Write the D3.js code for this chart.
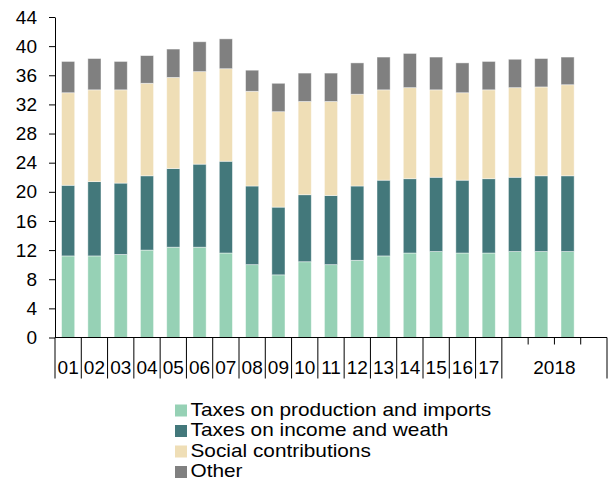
<!DOCTYPE html>
<html>
<head>
<meta charset="utf-8">
<script src="https://cdn.jsdelivr.net/npm/d3@7"></script>
<style>
  body { margin: 0; background: #fff; }
  svg { font-family: "Liberation Sans", Arial, sans-serif; }
</style>
</head>
<body>
<div id="chart"></div>
<script>
// slots on the x axis: years 2001-2017, then 2018 quarters
const categories = ["01","02","03","04","05","06","07","08","09","10","11","12","13","14","15","16","17","Q1","Q2","Q3","Q4"];
const yearLabels = ["01","02","03","04","05","06","07","08","09","10","11","12","13","14","15","16","17"];
const groupLabel = "2018";
const quarters = ["Q1","Q2","Q3","Q4"];

// % of GDP, one value per bar
const production = [11.2,11.2,11.4,12.0,12.4,12.4,11.6,10.0,8.6,10.4,10.0,10.6,11.2,11.6,11.8,11.6,11.6,11.8,11.8,11.8];
const income     = [9.7,10.2,9.8,10.2,10.8,11.4,12.6,10.8,9.3,9.2,9.5,10.2,10.4,10.2,10.2,10.0,10.2,10.2,10.4,10.4];
const social     = [12.7,12.6,12.8,12.7,12.5,12.7,12.7,13.0,13.1,12.8,12.9,12.6,12.4,12.5,12.0,12.0,12.2,12.3,12.2,12.5];
const other      = [4.3,4.3,3.9,3.8,3.9,4.1,4.1,2.9,3.9,3.9,3.9,4.3,4.5,4.7,4.5,4.1,3.9,3.9,3.9,3.8];

const seriesNames = ["Taxes on production and imports","Taxes on income and weath","Social contributions","Other"];
const colors = ["#96d1b5","#43787b","#efdeb6","#808080"];
const yTicks = [0,4,8,12,16,20,24,28,32,36,40,44];

const w = 611, h = 481;
const padLeft = 55, padRight = 607, padTop = 17, padBottom = 337.5;

// table for the stack
const keys = ["p","i","s","o"];
const table = production.map((d,i)=>({cat:categories[i], p:d, i:income[i], s:social[i], o:other[i]}));
const stacked = d3.stack().keys(keys)(table);

const svg = d3.select("#chart").append("svg")
    .attr("width",w)
    .attr("height",h);

const xScale = d3.scaleBand()
    .domain(categories)
    .range([padLeft,padRight])
    .paddingInner(0.5)
    .paddingOuter(0.25);
const step = xScale.step();

const yScale = d3.scaleLinear()
    .domain([0,44])
    .range([padBottom,padTop]);

// bars
svg.selectAll("g.layer")
    .data(stacked)
    .enter()
    .append("g")
    .attr("class","layer")
    .style("fill",(d,i)=>colors[i])
    .selectAll("rect")
    .data(d=>d)
    .enter()
    .append("rect")
    .attr("x",d=>xScale(d.data.cat))
    .attr("y",d=>yScale(d[1]))
    .attr("width",xScale.bandwidth())
    .attr("height",d=>yScale(d[0])-yScale(d[1]))
    .style("stroke","rgba(255,255,255,0.55)")
    .style("stroke-width","0.8px");

// y axis
const yAxis = d3.axisLeft(yScale)
    .tickValues(yTicks)
    .tickSize(6)
    .tickSizeOuter(0)
    .tickPadding(12);
const gy = svg.append("g")
    .attr("transform","translate("+padLeft+",0)")
    .call(yAxis);
gy.attr("font-family",null);
gy.selectAll("text").style("font-size","19px").style("fill","#000");
gy.selectAll("line,path").style("stroke","#000");

// x axis line
svg.append("line")
    .attr("x1",padLeft).attr("x2",padRight)
    .attr("y1",padBottom).attr("y2",padBottom)
    .style("stroke","#000");

// long ticks at the boundaries of years and of the 2018 group
const slotStart = c=>xScale(c)-step*0.25;
const longTicks = yearLabels.map(slotStart).concat([slotStart("Q1"), padRight]);
svg.selectAll("line.long")
    .data(longTicks)
    .enter()
    .append("line")
    .attr("class","long")
    .attr("x1",d=>d).attr("x2",d=>d)
    .attr("y1",padBottom).attr("y2",padBottom+41)
    .style("stroke","#000");

// short ticks between quarters
svg.selectAll("line.short")
    .data(quarters.slice(1))
    .enter()
    .append("line")
    .attr("class","short")
    .attr("x1",d=>slotStart(d)).attr("x2",d=>slotStart(d))
    .attr("y1",padBottom).attr("y2",padBottom+7)
    .style("stroke","#000");

// year labels
svg.selectAll("text.year")
    .data(yearLabels)
    .enter()
    .append("text")
    .attr("class","year")
    .attr("x",d=>xScale(d)+xScale.bandwidth()/2)
    .attr("y",373.5)
    .attr("text-anchor","middle")
    .style("font-size","19px")
    .text(d=>d);

svg.append("text")
    .attr("x",(slotStart("Q1")+padRight)/2)
    .attr("y",373.5)
    .attr("text-anchor","middle")
    .style("font-size","19px")
    .text(groupLabel);

// legend - lines are tight, so the text is a bit smaller and stretched to the original width
const legend = svg.append("g");
seriesNames.forEach((name,i)=>{
    legend.append("rect")
        .attr("x",175)
        .attr("y",404.5+i*20.5)
        .attr("width",12)
        .attr("height",12)
        .style("fill",colors[i]);
    const t = legend.append("text")
        .attr("x",190.5)
        .attr("y",415.5+i*20.5)
        .style("font-size","20.8px")
        .text(name);
    const len = t.node().getComputedTextLength();
    t.style("font-size","18.2px")
        .attr("textLength",len)
        .attr("lengthAdjust","spacingAndGlyphs");
});
</script>
</body>
</html>
